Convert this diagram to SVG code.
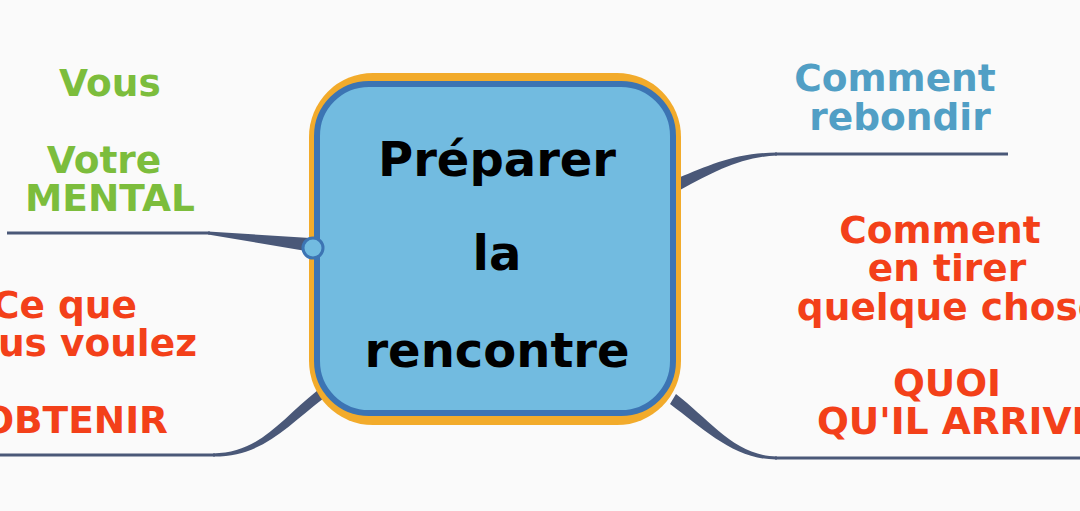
<svg xmlns="http://www.w3.org/2000/svg" width="1080" height="511" viewBox="0 0 1080 511">
<style>
text{font-family:"DejaVu Sans",Verdana,sans-serif;font-weight:bold;font-size:37.5px;text-anchor:middle}
.g{fill:#7cbd3c}.r{fill:#f34019}.b{fill:#519fc5}
.ln{fill:none;stroke:#4a5878;stroke-width:3}
.br{fill:#4a5878;stroke:none}
</style>
<rect width="1080" height="511" fill="#fafafa"/>
<g id="connectors">
<path class="ln" d="M7 233H210"/>
<path class="br" d="M208 231.5L310 238L312 252L208 234.5Z"/>
<path class="ln" d="M0 455H215"/>
<path class="br" d="M213 453.5C260 453 280 420 318 390L324 398C285 428 262 457 213 456.5Z"/>
<path class="ln" d="M775 154H1008"/>
<path class="br" d="M777 152.5C735 153 710 165 678 178L680 190C714 172 740 157 777 155.5Z"/>
<path class="ln" d="M775 458H1080"/>
<path class="br" d="M777 456.5C735 456 710 420 676 394L670 404C705 430 735 460 777 459.5Z"/>
</g>
<g id="center">
<rect x="309" y="73" width="372" height="352" rx="64" fill="#f2ab2b"/>
<rect x="317" y="84" width="356" height="329" rx="52" fill="#72bbe0" stroke="#3c74b3" stroke-width="6"/>
<circle cx="313" cy="248" r="10" fill="#72bbe0" stroke="#3c74b3" stroke-width="3"/>
<text x="497" y="176" style="font-size:48px;fill:#000">Préparer</text>
<text x="497" y="270" style="font-size:48px;fill:#000">la</text>
<text x="497" y="367" style="font-size:48px;fill:#000">rencontre</text>
</g>
<g id="n-vous">
<text class="g" x="110" y="96">Vous</text>
<text class="g" x="104" y="173">Votre</text>
<text class="g" x="110" y="211">MENTAL</text>
</g>
<g id="n-obtenir">
<text class="r" x="137" y="318" style="text-anchor:end">Ce que</text>
<text class="r" x="197" y="356" style="text-anchor:end">vous voulez</text>
<text class="r" x="168" y="433" style="text-anchor:end">OBTENIR</text>
</g>
<g id="n-rebondir">
<text class="b" x="895" y="91">Comment</text>
<text class="b" x="900" y="130">rebondir</text>
</g>
<g id="n-tirer">
<text class="r" x="940" y="243">Comment</text>
<text class="r" x="947" y="281">en tirer</text>
<text class="r" x="950" y="320">quelque chose</text>
<text class="r" x="947" y="396">QUOI</text>
<text class="r" x="957" y="434">QU'IL ARRIVE</text>
</g>
</svg>
